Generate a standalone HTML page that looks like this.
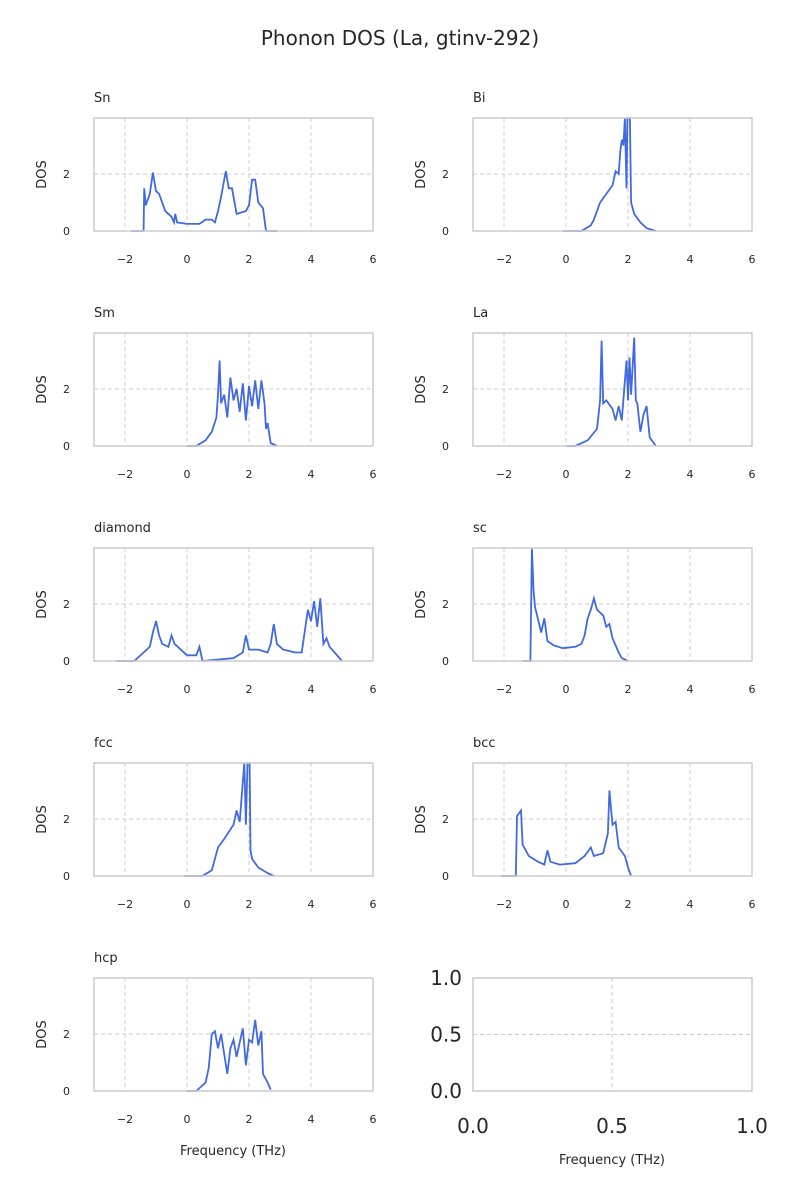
<!DOCTYPE html>
<html><head><meta charset="utf-8"><style>body{margin:0;background:#fff}svg{display:block}text{font-family:"DejaVu Sans","Liberation Sans",sans-serif;fill:#262626}</style></head>
<body><svg id="s" width="800" height="1200" xmlns="http://www.w3.org/2000/svg"></svg>
<script>
const D={
Sn:[[-1.8,0],[-1.4,0],[-1.38,1.5],[-1.33,0.9],[-1.2,1.3],[-1.1,2.05],[-1.0,1.4],[-0.9,1.3],[-0.7,0.7],[-0.5,0.5],[-0.42,0.3],[-0.38,0.6],[-0.32,0.3],[0,0.25],[0.4,0.25],[0.6,0.4],[0.8,0.4],[0.9,0.3],[1.0,0.7],[1.1,1.2],[1.25,2.1],[1.35,1.5],[1.45,1.5],[1.6,0.6],[1.9,0.7],[2.0,0.9],[2.1,1.8],[2.2,1.8],[2.3,1.0],[2.45,0.8],[2.5,0.4],[2.55,0],[2.9,0]],
Bi:[[-0.1,0],[0.5,0],[0.8,0.2],[0.9,0.4],[1.1,1.0],[1.3,1.3],[1.5,1.6],[1.6,2.1],[1.7,2.0],[1.75,2.8],[1.8,3.2],[1.85,3.0],[1.9,3.96],[1.95,1.5],[1.98,3.96],[2.06,3.96],[2.1,1.0],[2.2,0.6],[2.4,0.3],[2.6,0.1],[2.9,0]],
Sm:[[0,0],[0.3,0],[0.6,0.2],[0.8,0.5],[0.95,1.0],[1.0,1.8],[1.05,3.0],[1.1,1.5],[1.2,1.8],[1.3,1.0],[1.4,2.4],[1.5,1.6],[1.6,2.0],[1.7,1.2],[1.8,2.2],[1.9,0.9],[2.0,2.1],[2.1,1.4],[2.2,2.3],[2.3,1.3],[2.4,2.3],[2.5,1.5],[2.55,0.6],[2.6,0.8],[2.7,0.1],[2.9,0]],
La:[[0,0],[0.3,0],[0.7,0.2],[1.0,0.6],[1.1,1.6],[1.15,3.7],[1.2,1.5],[1.3,1.6],[1.5,1.3],[1.6,0.9],[1.7,1.4],[1.8,0.9],[1.9,2.3],[1.95,3.0],[2.0,1.6],[2.05,3.1],[2.1,1.8],[2.2,3.8],[2.25,1.6],[2.3,1.5],[2.4,0.5],[2.5,1.1],[2.6,1.4],[2.7,0.3],[2.9,0]],
diamond:[[-2.3,0],[-1.7,0],[-1.6,0.1],[-1.4,0.3],[-1.2,0.5],[-1.1,1.0],[-1.0,1.4],[-0.9,0.9],[-0.8,0.6],[-0.6,0.5],[-0.5,0.9],[-0.4,0.6],[-0.2,0.4],[0,0.2],[0.3,0.2],[0.4,0.5],[0.5,0],[1.5,0.1],[1.8,0.3],[1.9,0.9],[2.0,0.4],[2.3,0.4],[2.6,0.3],[2.7,0.6],[2.8,1.3],[2.9,0.6],[3.1,0.4],[3.5,0.3],[3.7,0.3],[3.9,1.8],[4.0,1.4],[4.1,2.1],[4.2,1.2],[4.3,2.2],[4.4,0.6],[4.5,0.8],[4.6,0.5],[5.0,0]],
sc:[[-1.4,0],[-1.15,0],[-1.1,3.96],[-1.05,2.5],[-1.0,1.9],[-0.8,1.0],[-0.7,1.5],[-0.6,0.7],[-0.4,0.55],[-0.1,0.45],[0.3,0.5],[0.5,0.6],[0.6,0.9],[0.7,1.5],[0.8,1.8],[0.9,2.2],[1.0,1.8],[1.2,1.6],[1.3,1.2],[1.4,1.3],[1.5,0.8],[1.7,0.3],[1.8,0.1],[2.0,0]],
fcc:[[-0.1,0],[0.5,0],[0.8,0.2],[1.0,1.0],[1.2,1.3],[1.5,1.8],[1.6,2.3],[1.7,1.9],[1.8,3.3],[1.85,3.96],[1.9,1.8],[1.95,3.96],[2.02,3.96],[2.05,0.9],[2.1,0.6],[2.3,0.3],[2.6,0.1],[2.8,0]],
bcc:[[-2.1,0],[-1.62,0],[-1.58,2.1],[-1.45,2.3],[-1.4,1.1],[-1.2,0.7],[-0.9,0.5],[-0.7,0.4],[-0.6,0.9],[-0.5,0.5],[-0.2,0.4],[0.3,0.45],[0.6,0.7],[0.8,1.0],[0.9,0.7],[1.2,0.8],[1.35,1.5],[1.4,3.0],[1.5,1.8],[1.6,1.9],[1.7,1.0],[1.9,0.7],[2.0,0.3],[2.1,0]],
hcp:[[0,0],[0.3,0],[0.6,0.3],[0.7,0.8],[0.8,2.0],[0.9,2.1],[1.0,1.5],[1.1,2.0],[1.2,1.3],[1.3,0.6],[1.4,1.5],[1.5,1.8],[1.6,1.2],[1.8,2.2],[1.9,0.9],[2.0,1.8],[2.1,1.7],[2.2,2.5],[2.3,1.6],[2.4,2.1],[2.45,0.6],[2.6,0.3],[2.7,0.05]]};
const names=["Sn","Bi","Sm","La","diamond","sc","fcc","bcc","hcp"];
let h='<text x="400" y="45" text-anchor="middle" font-size="20">Phonon DOS (La, gtinv-292)</text>';
const W=279,H=113;
names.forEach((n,i)=>{
 const x0=i%2?473:94, y0=118+Math.floor(i/2)*215;
 const X=f=>x0+(f+3)*31, Y=d=>y0+H-d*28.5;
 h+=`<text x="${x0}" y="${y0-16}" font-size="13">${n}</text>`;
 [-2,0,2,4].forEach(t=>h+=`<line x1="${X(t)}" x2="${X(t)}" y1="${y0}" y2="${y0+H}" stroke="#ccc" stroke-dasharray="4,3"/>`);
 h+=`<line x1="${x0}" x2="${x0+W}" y1="${Y(2)}" y2="${Y(2)}" stroke="#ccc" stroke-dasharray="4,3"/>`;
 [-2,0,2,4,6].forEach(t=>h+=`<text x="${X(t)}" y="${y0+H+32}" text-anchor="middle" font-size="11">${t<0?'\u2212'+(-t):t}</text>`);
 [0,2].forEach(t=>h+=`<text x="${x0-24}" y="${Y(t)+4}" text-anchor="end" font-size="11">${t}</text>`);
 h+=`<text transform="translate(${x0-48},${y0+H/2}) rotate(-90)" text-anchor="middle" font-size="13">DOS</text>`;
 h+=`<polyline fill="none" stroke="#4169e1" stroke-width="1.8" points="${D[n].map(p=>X(p[0]).toFixed(1)+','+Y(p[1]).toFixed(1)).join(' ')}"/>`;
 h+=`<rect x="${x0}" y="${y0}" width="${W}" height="${H}" fill="none" stroke="#ccc" stroke-width="1.5"/>`;
});
h+=`<text x="233" y="1155" text-anchor="middle" font-size="13">Frequency (THz)</text>`;
const x0=473,y0=978;
h+=`<line x1="612" x2="612" y1="${y0}" y2="${y0+H}" stroke="#ccc" stroke-dasharray="4,3"/><line x1="${x0}" x2="${x0+W}" y1="1034.5" y2="1034.5" stroke="#ccc" stroke-dasharray="4,3"/>`;
h+=`<rect x="${x0}" y="${y0}" width="${W}" height="${H}" fill="none" stroke="#ccc" stroke-width="1.5"/>`;
[["0.0",473],["0.5",612],["1.0",752]].forEach(a=>h+=`<text x="${a[1]}" y="1133" text-anchor="middle" font-size="20">${a[0]}</text>`);
[["0.0",1091],["0.5",1034.5],["1.0",978]].forEach(a=>h+=`<text x="462" y="${a[1]+7}" text-anchor="end" font-size="20">${a[0]}</text>`);
h+=`<text x="612" y="1164" text-anchor="middle" font-size="13">Frequency (THz)</text>`;
document.getElementById('s').innerHTML=h;
</script></body></html>
